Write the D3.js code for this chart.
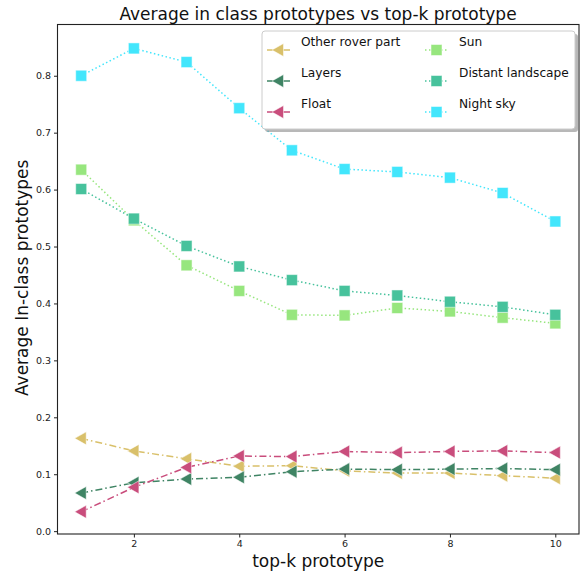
<!DOCTYPE html>
<html>
<head>
<style type="text/css">
body { margin: 0; background: #fff; }
text { font-family: "DejaVu Sans", sans-serif; }
.tick text { font-size: 9.5px; fill: #222; }
.tick line { stroke: #222; }
.domain { stroke: none; }
</style>
<script src="https://d3js.org/d3.v7.min.js"></script>
</head>
<body>
<script type="text/javascript">
var width = 584;
var height = 573;

var topk = [1, 2, 3, 4, 5, 6, 7, 8, 9, 10];
var otherRover = [0.163, 0.141, 0.127, 0.114, 0.115, 0.106, 0.102, 0.102, 0.0975, 0.093];
var layers = [0.067, 0.085, 0.0915, 0.0945, 0.1045, 0.109, 0.108, 0.109, 0.110, 0.108];
var floatV = [0.034, 0.077, 0.112, 0.132, 0.131, 0.140, 0.138, 0.140, 0.141, 0.138];
var sun = [0.635, 0.546, 0.467, 0.422, 0.380, 0.379, 0.392, 0.386, 0.375, 0.365];
var distant = [0.601, 0.549, 0.501, 0.465, 0.441, 0.422, 0.414, 0.403, 0.394, 0.380];
var nightSky = [0.800, 0.848, 0.824, 0.743, 0.669, 0.636, 0.631, 0.621, 0.594, 0.544];
var xTicks = [2, 4, 6, 8, 10];
var yTicks = [0.0, 0.1, 0.2, 0.3, 0.4, 0.5, 0.6, 0.7, 0.8];

var series = [
	{name: "Other rover part", values: otherRover, color: "#d9c06a", marker: "tri", dash: "7,3,1.5,3"},
	{name: "Layers", values: layers, color: "#3f8464", marker: "tri", dash: "7,3,1.5,3"},
	{name: "Float", values: floatV, color: "#c94d7c", marker: "tri", dash: "7,3,1.5,3"},
	{name: "Sun", values: sun, color: "#97e67e", marker: "sq", dash: "1.5,2.5"},
	{name: "Distant landscape", values: distant, color: "#47c29c", marker: "sq", dash: "1.5,2.5"},
	{name: "Night sky", values: nightSky, color: "#42e6fc", marker: "sq", dash: "1.5,2.5"}
];

var m = {left: 57.5, right: 5, top: 24.5, bottom: 39};
var x = d3.scaleLinear().domain([0.55, 10.45]).range([m.left, width - m.right]);
var y = d3.scaleLinear().domain([-0.005, 0.89]).range([height - m.bottom, m.top]);

var svg = d3.select("body").append("svg").attr("width", width).attr("height", height);

svg.append("text").attr("x", 318).attr("y", 20).attr("text-anchor", "middle")
	.style("font-size", "17px").attr("fill", "#111")
	.text("Average in class prototypes vs top-k prototype");

svg.append("g").attr("transform", "translate(0," + (height - m.bottom) + ")")
	.call(d3.axisBottom(x).tickValues(xTicks).tickSize(3.5).tickPadding(3).tickFormat(d3.format("d")));
svg.append("g").attr("transform", "translate(" + m.left + ",0)")
	.call(d3.axisLeft(y).tickValues(yTicks).tickSize(3.5).tickPadding(3).tickFormat(d3.format(".1f")));

// frame
svg.append("rect").attr("x", m.left).attr("y", m.top)
	.attr("width", width - m.right - m.left).attr("height", height - m.bottom - m.top)
	.attr("fill", "none").attr("stroke", "#222").attr("stroke-width", 1.1);

svg.append("text").attr("x", x(5.5)).attr("y", 567).attr("text-anchor", "middle")
	.style("font-size", "17px").attr("fill", "#111").text("top-k prototype");
svg.append("text").attr("transform", "translate(28," + y(0.445) + ") rotate(-90)")
	.attr("text-anchor", "middle").style("font-size", "17px").attr("fill", "#111")
	.text("Average In-class prototypes");

var line = d3.line().x(function(d, i) { return x(topk[i]); }).y(function(d) { return y(d); });

var tri = "M-6.5,0 L5,-6.5 L5,6.5 Z";

function drawMarker(g, s, cx, cy) {
	if (s.marker == "tri") {
		g.append("path").attr("d", tri).attr("transform", "translate(" + cx + "," + cy + ")")
			.attr("fill", s.color).attr("stroke", "#fff").attr("stroke-opacity", 0.5).attr("stroke-width", 1);
	} else {
		g.append("rect").attr("x", cx - 5.5).attr("y", cy - 5.5).attr("width", 11).attr("height", 11)
			.attr("fill", s.color).attr("stroke", "#fff").attr("stroke-opacity", 0.5).attr("stroke-width", 1);
	}
}

series.forEach(function(s) {
	var g = svg.append("g");
	g.append("path").datum(s.values).attr("d", line).attr("fill", "none")
		.attr("stroke", s.color).attr("stroke-width", 1.5).attr("stroke-dasharray", s.dash);
	s.values.forEach(function(v, i) { drawMarker(g, s, x(topk[i]), y(v)); });
});

// legend
var lg = svg.append("g").attr("transform", "translate(262,31)");
lg.append("rect").attr("x", 3).attr("y", 3).attr("width", 313).attr("height", 98).attr("rx", 3)
	.attr("fill", "#888").attr("opacity", 0.6);
lg.append("rect").attr("x", 0).attr("y", 0).attr("width", 313).attr("height", 98).attr("rx", 3)
	.attr("fill", "#fff").attr("stroke", "#ccc").attr("stroke-width", 1);
series.forEach(function(s, i) {
	var col = Math.floor(i / 3), row = i % 3;
	var hx = 5 + col * 158, hy = 19 + row * 31;
	lg.append("line").attr("x1", hx).attr("x2", hx + 23).attr("y1", hy).attr("y2", hy)
		.attr("stroke", s.color).attr("stroke-width", 1.5)
		.attr("stroke-dasharray", s.marker == "tri" ? null : "1.5,2.5");
	drawMarker(lg, s, hx + 11.5, hy);
	lg.append("text").attr("x", hx + 34).attr("y", hy - 4).style("font-size", "12.2px").attr("fill", "#111")
		.text(s.name);
});
</script>
</body>
</html>
